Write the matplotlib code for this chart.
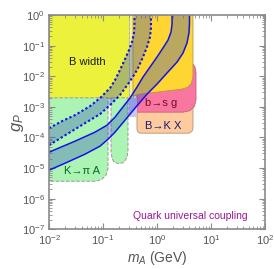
import matplotlib
matplotlib.use('Agg')
import matplotlib.pyplot as plt
import numpy as np

plt.rcParams['font.family'] = ['Liberation Sans', 'DejaVu Sans']
plt.rcParams['mathtext.fontset'] = 'custom'
plt.rcParams['mathtext.rm'] = 'Liberation Sans'
plt.rcParams['mathtext.it'] = 'Liberation Sans:italic'
plt.rcParams['mathtext.bf'] = 'Liberation Sans:bold'

# ---------------- data (m_A in GeV, g_P) ----------------
# dotted band boundaries
d1_m = [0.01, 0.0174, 0.0303, 0.0574, 0.088, 0.135, 0.167, 0.206, 0.256, 0.303, 0.344, 0.375, 0.383, 0.383]
d1_g = [2.01e-4, 3.41e-4, 5.36e-4, 1.05e-3, 1.93e-3, 4.09e-3, 7.48e-3, 1.59e-2, 3.64e-2, 7.16e-2, 0.131, 0.258, 0.471, 1.0]
d2_m = [0.01, 0.0215, 0.0464, 0.088, 0.135, 0.206, 0.290, 0.375, 0.445, 0.550, 0.653, 0.742, 0.774, 0.774]
d2_g = [5.59e-5, 1.28e-4, 2.93e-4, 5.77e-4, 1.14e-3, 2.42e-3, 5.53e-3, 1.09e-2, 1.85e-2, 4.23e-2, 8.98e-2, 0.191, 0.376, 1.0]
# solid band boundaries
s1_m = [0.01, 0.0303, 0.0711, 0.119, 0.167, 0.225, 0.316, 0.426, 0.550, 0.742, 1.0, 1.29, 1.60, 1.82, 1.90, 1.90]
s1_g = [3.30e-5, 7.55e-5, 1.49e-4, 2.52e-4, 4.61e-4, 9.08e-4, 1.93e-3, 4.41e-3, 9.37e-3, 1.99e-2, 4.23e-2, 8.33e-2, 0.152, 0.278, 0.508, 1.0]
s2_m = [0.01, 0.0198, 0.0464, 0.088, 0.124, 0.167, 0.256, 0.391, 0.653, 1.0, 1.53, 2.35, 3.03, 3.59, 3.91, 4.0, 4.0]
s2_g = [8.51e-6, 1.44e-5, 2.84e-5, 5.19e-5, 8.79e-5, 1.49e-4, 3.68e-4, 9.08e-4, 2.60e-3, 5.53e-3, 1.27e-2, 2.90e-2, 5.71e-2, 0.121, 0.258, 0.508, 1.0]

# excluded regions
bwidth_m = [0.01, 0.303, 0.303, 0.01]
bwidth_g = [1.0, 1.0, 1.97e-3, 1.97e-3]
strip_m = [0.303, 0.359, 0.359, 0.303]
strip_g = [1.0, 1.0, 1.97e-3, 1.97e-3]
lav_m = [0.303, 0.426, 0.426, 0.303]
lav_g = [1.97e-3, 1.97e-3, 4.6e-4, 4.6e-4]
gold_m = [0.359, 4.64, 4.64, 4.35, 3.75, 2.90, 0.484, 0.359]
gold_g = [1.0, 1.0, 1.01e-2, 5.97e-3, 4.41e-3, 3.80e-3, 2.60e-3, 2.24e-3]
bsg_m = [0.426, 4.64, 5.05, 5.275, 5.275, 4.95, 4.08, 3.03, 0.426]
bsg_g = [2.49e-2, 2.49e-2, 1.99e-2, 1.366e-2, 1.66e-3, 1.05e-3, 7.51e-4, 6.71e-4, 6.71e-4]
bkx_m = [0.426, 4.64, 4.64, 4.45, 3.91, 0.484, 0.4354, 0.426]
bkx_g = [3.52e-3, 3.52e-3, 2.01e-4, 1.60e-4, 1.38e-4, 1.38e-4, 1.55e-4, 1.87e-4]
kpi_m = [0.01, 0.124, 0.124, 0.1136, 0.0958, 0.0742, 0.01]
kpi_g = [1.97e-3, 1.97e-3, 9.89e-6, 5.83e-6, 4.32e-6, 3.71e-6, 3.71e-6]
kpi2_m = [0.1406, 0.2904, 0.2904, 0.278, 0.245, 0.198, 0.160, 0.1468, 0.1406]
kpi2_g = [1.97e-3, 1.97e-3, 3.84e-5, 2.26e-5, 1.55e-5, 1.39e-5, 1.55e-5, 2.10e-5, 3.84e-5]

labels_txt = ["B width", "b\u2192s g", "B\u2192K X", "K\u2192\u03c0 A", "Quark universal coupling"]
labels_m = [0.0506, 1.19, 1.32, 0.040, 4.08]
labels_g = [0.029, 1.32e-3, 2.4e-4, 8.3e-6, 2.66e-7]

# ---------------- figure ----------------
fig = plt.figure(figsize=(2.74, 2.69), dpi=100)
ax = fig.add_axes([0.1788, 0.1476, 0.7883, 0.7966])
ax.set_xscale('log')
ax.set_yscale('log')
ax.set_xlim(1e-2, 1e2)
ax.set_ylim(1e-7, 1)

ax.fill(bwidth_m, bwidth_g, facecolor='#ECF23C', edgecolor='#A8A860', lw=0.6, zorder=1)
ax.fill(strip_m, strip_g, facecolor='#F2F29C', edgecolor='#B0B0B0', lw=0.6, ls='--', zorder=1.1)
ax.fill(bkx_m, bkx_g, facecolor='#FDCB9E', edgecolor='#B89070', lw=0.6, zorder=1.2)
ax.fill(bsg_m, bsg_g, facecolor='#F8769F', edgecolor='#C06080', lw=0.6, zorder=1.3)
ax.fill(gold_m, gold_g, facecolor='#FFD631', edgecolor='#B09A40', lw=0.6, zorder=1.4)
ax.fill(kpi_m, kpi_g, facecolor='#ACF4B4', edgecolor='#999999', lw=0.7, ls='--', zorder=1.5)
ax.fill(kpi2_m, kpi2_g, facecolor='#ACF4B4', edgecolor='#999999', lw=0.7, ls='--', zorder=1.5)
ax.fill(lav_m, lav_g, facecolor='#C8C8F2', edgecolor='none', zorder=1.6)

band_col = '#3048C0'
ax.fill(np.concatenate([d1_m, d2_m[::-1]]), np.concatenate([d1_g, d2_g[::-1]]),
        facecolor=band_col, alpha=0.33, edgecolor='none', zorder=2)
ax.fill(np.concatenate([s1_m, s2_m[::-1]]), np.concatenate([s1_g, s2_g[::-1]]),
        facecolor=band_col, alpha=0.33, edgecolor='none', zorder=2)

lc = '#1414E6'
ax.plot(d1_m, d1_g, color=lc, lw=1.5, ls=(0, (1.1, 1.1)), zorder=3)
ax.plot(d2_m, d2_g, color=lc, lw=1.5, ls=(0, (1.1, 1.1)), zorder=3)
ax.plot(s1_m, s1_g, color=lc, lw=1.1, zorder=3)
ax.plot(s2_m, s2_g, color=lc, lw=1.1, zorder=3)

txt_cols = ['#1a1a1a', '#701030', '#18187a', '#0c6a2c', '#9a169a']
txt_sizes = [8, 8, 8, 8, 7.5]
for t, mx, gy, c, s in zip(labels_txt, labels_m, labels_g, txt_cols, txt_sizes):
    ax.text(mx, gy, t, color=c, fontsize=s, ha='center', va='center', zorder=5)

for sp in ax.spines.values():
    sp.set_color('#8a8a8a')
    sp.set_linewidth(1.2)
    sp.set_zorder(6)

ax.xaxis.set_major_locator(matplotlib.ticker.LogLocator(base=10, numticks=20))
ax.yaxis.set_major_locator(matplotlib.ticker.LogLocator(base=10, numticks=20))
ax.xaxis.set_minor_locator(matplotlib.ticker.LogLocator(base=10, subs=np.arange(2, 10), numticks=20))
ax.yaxis.set_minor_locator(matplotlib.ticker.LogLocator(base=10, subs=np.arange(2, 10), numticks=20))
ax.xaxis.set_minor_formatter(matplotlib.ticker.NullFormatter())
ax.yaxis.set_minor_formatter(matplotlib.ticker.NullFormatter())
ax.tick_params(which='both', direction='in', top=True, right=True, color='#8a8a8a')
ax.tick_params(which='major', length=4, width=0.8, labelsize=8, labelcolor='#555555', pad=3)
ax.tick_params(which='minor', length=2, width=0.6)

fig.text(0.573, 0.040, '$m_A$ (GeV)', fontsize=10, color='#555555', ha='center', va='center')
fig.text(0.065, 0.546, '$g_P$', fontsize=12, color='#555555', ha='center', va='center', rotation=90)

fig.savefig('out.png', dpi=100)
